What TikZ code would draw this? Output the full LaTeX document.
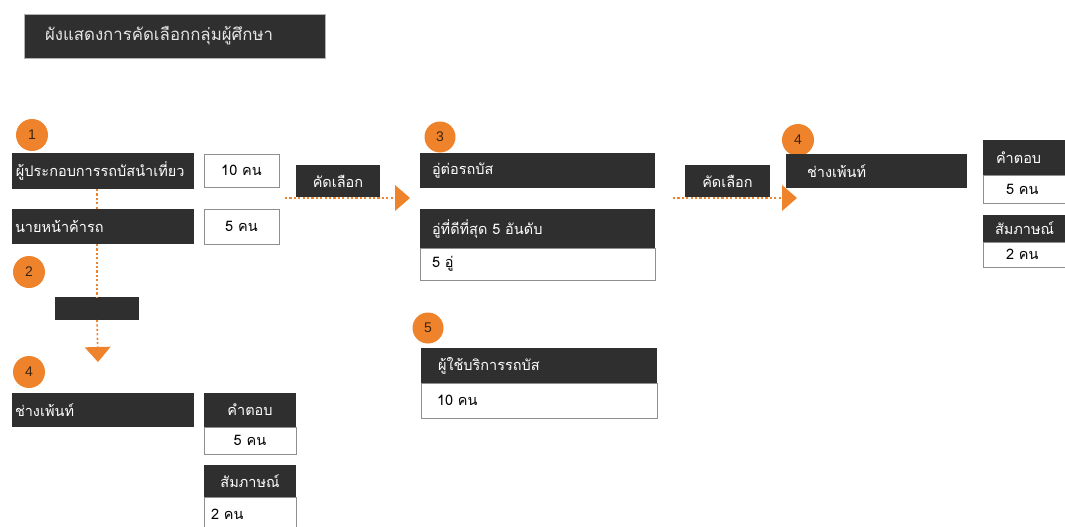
\documentclass[tikz,border=0pt]{standalone}
\usepackage{fontspec}
\newfontfamily\thaifont[Script=Thai]{Loma}
\newfontfamily\numfont{Liberation Sans}
\usetikzlibrary{arrows.meta}

\definecolor{barcol}{HTML}{2F2F2F}
\definecolor{flow}{HTML}{EF832C}
\definecolor{edgecol}{HTML}{8E8E8E}
\definecolor{numcol}{HTML}{3A2410}

\tikzset{
  base/.style={anchor=north west, inner ysep=0pt, outer sep=0pt,
               font=\thaifont\fontsize{14.5}{16}\selectfont},
  % dark label bar with left-aligned text: width, height, left inset
  darkbar/.style n args={3}{base, fill=barcol, text=white,
               minimum height=#2, text width=#1-2*#3, inner xsep=#3, align=left},
  % white value box with left-aligned text
  valbox/.style n args={3}{base, fill=white, draw=edgecol, line width=0.9pt,
               text=black, minimum height=#2, text width=#1-2*#3, inner xsep=#3, align=left},
  % centred variants
  darkc/.style 2 args={base, fill=barcol, text=white, minimum width=#1,
               minimum height=#2, inner xsep=0pt, align=center},
  valc/.style 2 args={base, fill=white, draw=edgecol, line width=0.9pt,
               text=black, minimum width=#1, minimum height=#2, inner xsep=0pt, align=center},
  badge/.style={circle, fill=flow, minimum size=#1, inner sep=0pt,
               text=numcol, font=\numfont\fontsize{14}{14}\selectfont},
  flowline/.style={draw=flow, line width=1.6pt, dash pattern=on 2.2pt off 2.2pt},
  flowtip/.style={-{Triangle[length=15pt,width=26pt,fill=flow,line width=0pt]}},
}

\begin{document}
\begin{tikzpicture}[x=1pt,y=-1pt]
\useasboundingbox (0,0) rectangle (1065,527);
\clip (0,0) rectangle (1065,527);

% heading
\node[darkbar={301pt}{44pt}{21pt}, draw=gray!60, line width=0.8pt, text=white!90!black,
      font=\thaifont\fontsize{16.8}{18}\selectfont] (title) at (24,14)
      {ผังแสดงการคัดเลือกกลุ่มผู้ศึกษา};

% step badges (drawn first, the bars overlap them)
\node[badge=32pt] (s1) at (32,135) {1};
\node[badge=32pt] (s2) at (29,272) {2};
\node[badge=32pt] (s4a) at (29,372) {4};
\node[badge=31pt] (s3) at (440,137) {3};
\node[badge=32pt] (s4b) at (798,140) {4};
\node[badge=31pt] (s5) at (428,328) {5};

% ---- step 1 / 2 column
\node[darkbar={182pt}{36pt}{4pt}] (op) at (12,153) {ผู้ประกอบการรถบัสนำเที่ยว};
\node[valc={75pt}{33pt}] (op n) at (204,154) {10 คน};
\node[darkbar={182pt}{35pt}{3pt}] (broker) at (12,209) {นายหน้าค้ารถ};
\node[valc={75pt}{35pt}] (broker n) at (204,209) {5 คน};
\node[darkc={84pt}{23pt}] (mid) at (55,297) {};
\coordinate (downtip) at (98,362);

\draw[flowline] (op.south -| mid.north) -- (broker.north -| mid.north);
\draw[flowline] (broker.south -| mid.north) -- (mid.north);
\draw[flowline, flowtip] (mid.south) -- (downtip);

% ---- step 4 (left)
\node[darkbar={182pt}{34pt}{3pt}] (painterA) at (12,393) {ช่างเพ้นท์};
\node[darkc={92pt}{34pt}] (ansA) at (204,393) {คำตอบ};
\node[valc={92pt}{27pt}] (ansA n) at (204,427) {5 คน};
\node[darkc={92pt}{32pt}] (intA) at (204,465) {สัมภาษณ์};
\node[valbox={92pt}{34pt}{7pt}] (intA n) at (204,497) {2 คน};

% ---- selection towards step 3
\coordinate (from1) at (285,198);
\node[darkc={84pt}{32pt}] (sel1) at (296,165) {คัดเลือก};
\coordinate (tip1) at (410,198);
\draw[flowline, flowtip] (from1) -- (tip1);

% ---- step 3
\node[darkbar={235pt}{35pt}{12pt}] (builder) at (420,153) {อู่ต่อรถบัส};
\node[darkbar={235pt}{39pt}{12pt}] (best) at (420,209) {อู่ที่ดีที่สุด 5 อันดับ};
\node[valbox={235pt}{32pt}{12pt}] (best n) at (420,248) {5 อู่};

% ---- step 5
\node[darkbar={236pt}{35pt}{17pt}] (users) at (421,348) {ผู้ใช้บริการรถบัส};
\node[valbox={236pt}{35pt}{16pt}] (users n) at (421,383) {10 คน};

% ---- selection towards step 4 (right)
\coordinate (from2) at (673,198);
\node[darkc={85pt}{32pt}] (sel2) at (685,165) {คัดเลือก};
\coordinate (tip2) at (797,198);
\draw[flowline, flowtip] (from2) -- (tip2);

% ---- step 4 (right)
\node[darkbar={100pt}{35pt}{13pt}] (ansB) at (983,140) {คำตอบ};
\node[valbox={100pt}{28pt}{23pt}] (ansB n) at (983,175) {5 คน};
\node[darkbar={100pt}{27pt}{12pt}] (intB) at (983,215) {สัมภาษณ์};
\node[valbox={100pt}{25pt}{23pt}] (intB n) at (983,242) {2 คน};
\node[darkbar={181pt}{34pt}{21pt}] (painterB) at (786,154) {ช่างเพ้นท์};
\end{tikzpicture}
\end{document}
